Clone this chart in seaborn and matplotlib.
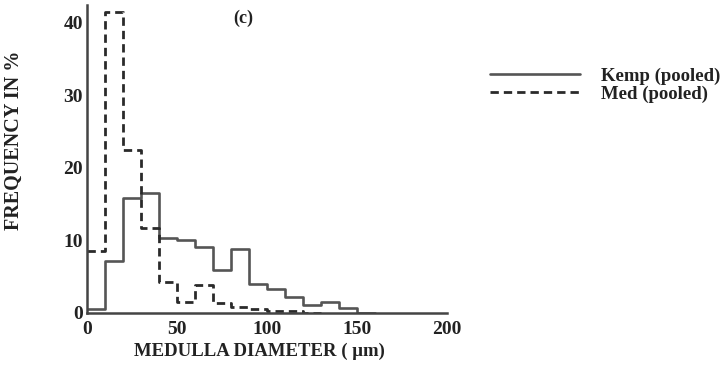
import matplotlib
matplotlib.use("Agg")
import matplotlib.pyplot as plt
import seaborn as sns
import numpy as np
from matplotlib.lines import Line2D

# --- data ---
bin_edges = [0, 10, 20, 30, 40, 50, 60, 70, 80, 90, 100, 110, 120, 130, 140, 150, 160]
kemp_pct = [0.5, 7.2, 15.9, 16.5, 10.3, 10.1, 9.1, 5.9, 8.8, 4.0, 3.3, 2.2, 1.1, 1.5, 0.7, 0.0]
med_edges = [0, 10, 20, 30, 40, 50, 60, 70, 80, 90, 100, 110, 120, 130]
med_pct = [8.5, 41.5, 22.5, 11.7, 4.3, 1.5, 3.9, 1.4, 0.8, 0.6, 0.2, 0.2, 0.0]
x_ticks = [0, 50, 100, 150, 200]
y_ticks = [0, 10, 20, 30, 40]
series_labels = ["Kemp (pooled)", "Med (pooled)"]

sns.set_theme(style="white")
plt.rcParams['font.family'] = ['Liberation Serif', 'DejaVu Serif']
plt.rcParams['font.weight'] = 'bold'

fig = plt.figure(figsize=(7.28, 3.66), dpi=100)
ax = fig.add_axes([0.1195, 0.145, 0.4945, 0.842])

kemp_centers = [(a + b) / 2 for a, b in zip(bin_edges[:-1], bin_edges[1:])]
med_centers = [(a + b) / 2 for a, b in zip(med_edges[:-1], med_edges[1:])]

kc = "#555555"
mc = "#2a2a2a"
sns.histplot(x=kemp_centers, weights=kemp_pct, bins=bin_edges, element="step",
             fill=False, color=kc, linewidth=1.9, ax=ax)
sns.histplot(x=med_centers, weights=med_pct, bins=med_edges, element="step",
             fill=False, color=mc, linewidth=2.0, linestyle=(0, (3, 1.8)), ax=ax)

ax.set_xlim(0, 200)
ax.set_ylim(0, 42.5)
ax.set_xticks(x_ticks)
ax.set_yticks(y_ticks)
ax.tick_params(direction="in", length=4, width=1.2, colors="#444444",
               labelsize=14, labelcolor="#222222")
ax.tick_params(axis="x", pad=6)
ax.tick_params(axis="y", pad=3)
for lab in ax.get_xticklabels() + ax.get_yticklabels():
    lab.set_fontweight("bold")
for s in ["top", "right"]:
    ax.spines[s].set_visible(False)
for s in ["left", "bottom"]:
    ax.spines[s].set_color("#444444")
    ax.spines[s].set_linewidth(1.8)

ax.set_xlabel("MEDULLA DIAMETER ( μm)", fontsize=13.5, fontweight="bold",
              color="#222222")
ax.xaxis.set_label_coords(0.478, -0.097)
ax.set_ylabel("FREQUENCY IN %", fontsize=14.5, fontweight="bold",
              color="#222222")
ax.yaxis.set_label_coords(-0.175, 0.56)
ax.text(0.435, 0.955, "(c)", transform=ax.transAxes, fontsize=13,
        fontweight="bold", color="#222222", ha="center", va="center")

handles = [Line2D([], [], color=kc, linewidth=1.9),
           Line2D([], [], color=mc, linewidth=2.0, linestyle=(0, (3, 1.8)))]
leg = fig.legend(handles, series_labels, loc="upper left",
                 bbox_to_anchor=(0.65, 0.862), frameon=False,
                 handlelength=4.8, handletextpad=1.1, labelspacing=0.05,
                 prop={"weight": "bold", "size": 13.5})
for t in leg.get_texts():
    t.set_color("#222222")

fig.savefig("out.png", dpi=100)
